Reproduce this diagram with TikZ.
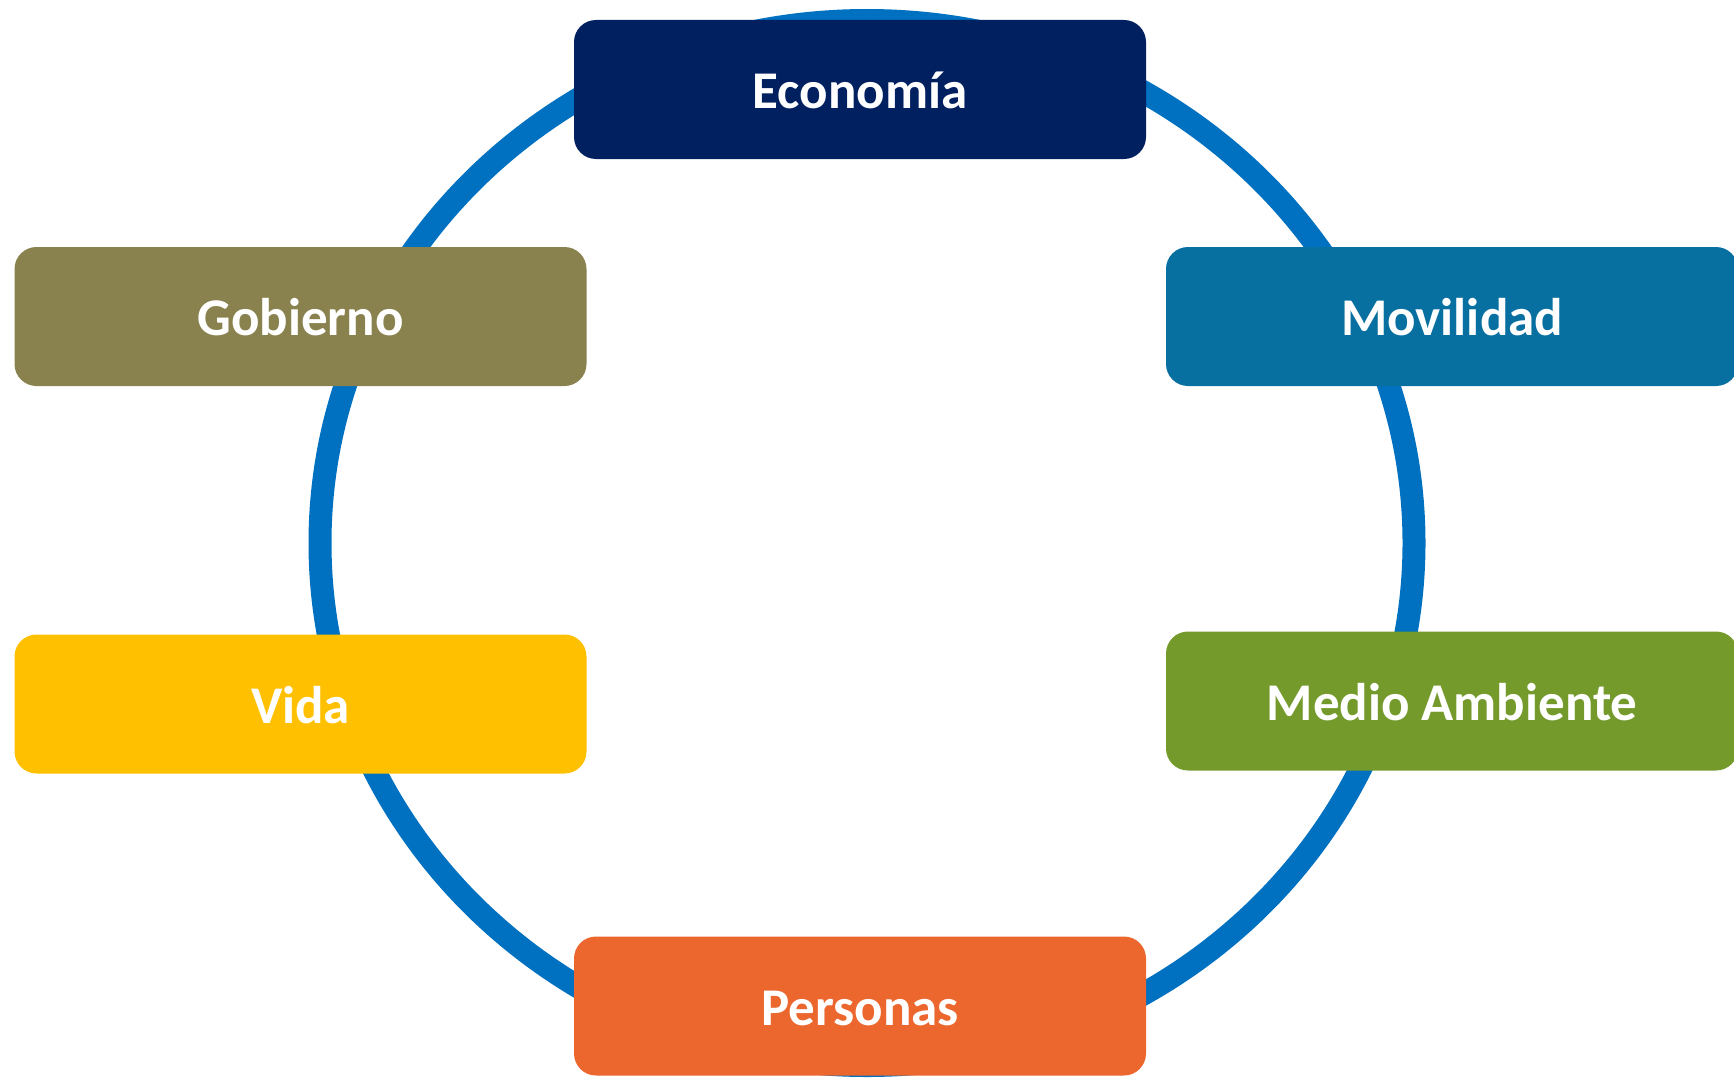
\documentclass[tikz,border=0pt]{standalone}
\usepackage{fontspec}
\setmainfont{Carlito}
\definecolor{ringblue}{RGB}{0,112,192}
\definecolor{econavy}{RGB}{0,32,96}
\definecolor{movblue}{RGB}{8,112,160}
\definecolor{gobolive}{RGB}{138,130,78}
\definecolor{vidayellow}{RGB}{255,192,0}
\definecolor{medgreen}{RGB}{117,154,44}
\definecolor{perorange}{RGB}{236,103,46}
\tikzset{
  catbox/.style={rectangle, rounded corners=22pt, minimum width=572pt, minimum height=139pt,
    inner sep=0pt, text=white, font=\fontsize{53}{60}\selectfont\bfseries,
    text height=38pt, text depth=0pt, anchor=center},
  ring/.style={draw=ringblue, line width=23pt}
}
\begin{document}
\begin{tikzpicture}[x=1pt,y=-1pt]
\useasboundingbox (0,0) rectangle (1734,1081);
\draw[ring] (867,543) ellipse [x radius=547pt, y radius=522.5pt];
\node[catbox, fill=econavy] (eco) at (860,89.5) {Economía};
\node[catbox, fill=gobolive] (gob) at (300.5,316.5) {Gobierno};
\node[catbox, fill=movblue] (mov) at (1452,316.5) {Movilidad};
\node[catbox, fill=vidayellow] (vida) at (300.5,704) {Vida};
\node[catbox, fill=medgreen] (med) at (1452,701) {Medio Ambiente};
\node[catbox, fill=perorange] (per) at (860,1006) {Personas};
\end{tikzpicture}
\end{document}
